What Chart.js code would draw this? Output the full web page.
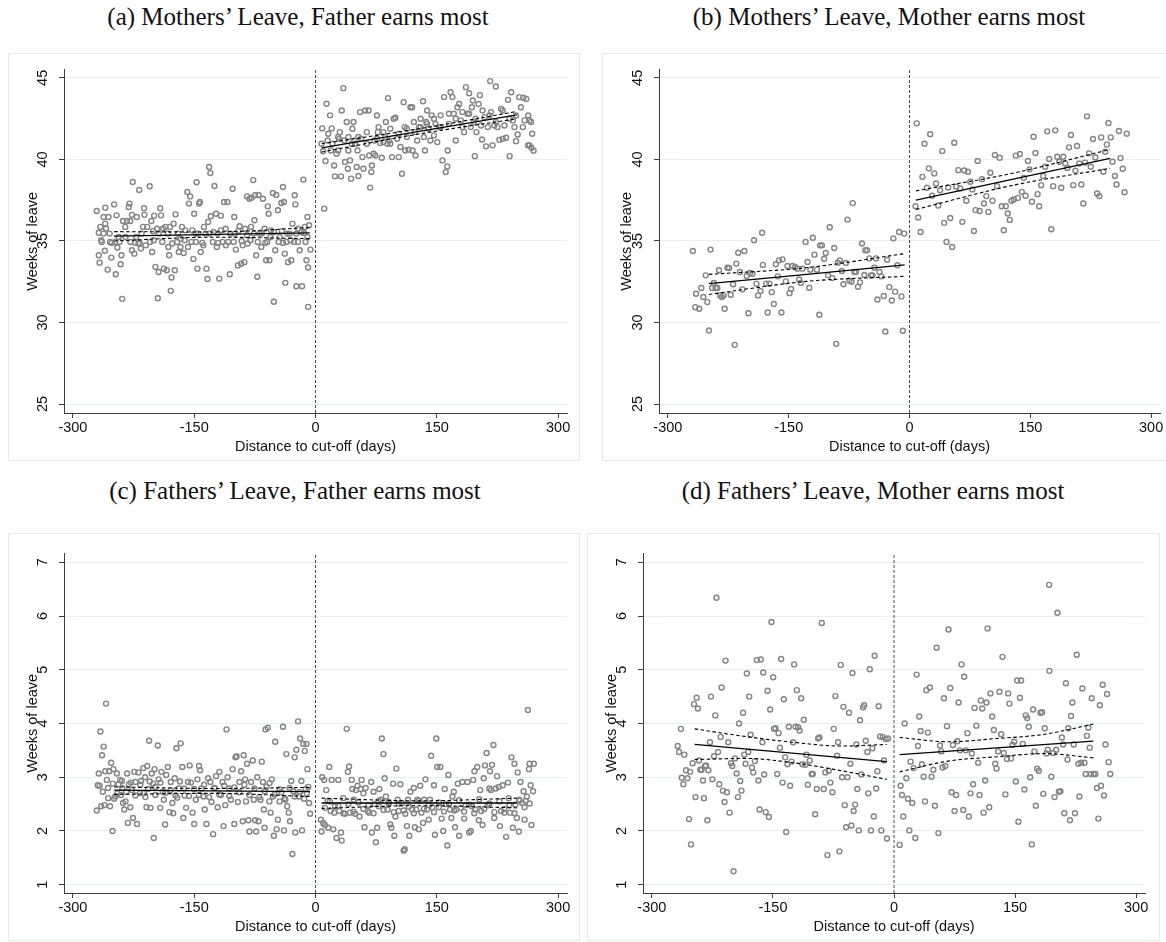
<!DOCTYPE html>
<html>
<head>
<meta charset="utf-8">
<title>Weeks of leave around the cut-off</title>
<script src="https://cdn.jsdelivr.net/npm/chart.js@4.4.1/dist/chart.umd.min.js"></script>
<style>
  body { margin: 0; background: #fff; width: 1166px; height: 942px; position: relative; overflow: hidden; }
  .ptitle { position: absolute; font-family: "Liberation Serif", "Times New Roman", serif; font-size: 25px; line-height: 30px; color: #111; text-align: center; white-space: nowrap; }
  .box { position: absolute; border: 1px solid #dfe8eb; box-sizing: border-box; }
  canvas { position: absolute; }
</style>
</head>
<body>

<div class="ptitle" style="left:8px;width:580px;top:2px">(a) Mothers’ Leave, Father earns most</div>
<div class="ptitle" style="left:602px;width:574px;top:2px">(b) Mothers’ Leave, Mother earns most</div>
<div class="ptitle" style="left:8px;width:574px;top:476px">(c) Fathers’ Leave, Father earns most</div>
<div class="ptitle" style="left:587px;width:572px;top:476px">(d) Fathers’ Leave, Mother earns most</div>

<div class="box" style="left:8px;top:53px;width:572px;height:408px"></div>
<div class="box" style="left:602px;top:53px;width:580px;height:408px"></div>
<div class="box" style="left:8px;top:533px;width:572px;height:408px"></div>
<div class="box" style="left:587px;top:533px;width:573px;height:408px"></div>

<canvas id="chartA" width="572" height="408" style="left:8px;top:53px"></canvas>
<canvas id="chartB" width="572" height="408" style="left:602px;top:53px"></canvas>
<canvas id="chartC" width="572" height="408" style="left:8px;top:533px"></canvas>
<canvas id="chartD" width="573" height="408" style="left:587px;top:533px"></canvas>

<script>
// axis set-up shared by the four panels
var xTicks = [-300, -150, 0, 150, 300];
var xRange = [-311, 311];
var yTicksMothers = [25, 30, 35, 40, 45];
var yRangeMothers = [24.45, 45.5];
var yTicksFathers = [1, 2, 3, 4, 5, 6, 7];
var yRangeFathers = [0.845, 7.16];
var xTitle = 'Distance to cut-off (days)';
var yTitle = 'Weeks of leave';

// (a) mothers' leave, father earns most: [days, weeks]
var scatterA = [
  [-270.5,36.84],[-268,34.12],[-267,33.67],[-268,35.5],[-266,35.86],[-265,35.04],[-262,36.47],[-262,35.45],[-260.5,34.4],[-260,36.06],
  [-260,37.04],[-257,33.24],[-256,36.47],[-254.5,35.45],[-254,34.94],[-252.5,33.98],[-249,37.24],[-247.7,34.94],[-247,32.96],[-246,36.57],
  [-245,34.6],[-243.5,35.24],[-241,33.57],[-240,34.12],[-239,31.45],[-238,36.22],[-235,35.24],[-233,36.22],[-231,37.08],[-230,37.29],
  [-229,36.22],[-227,36.6],[-227,34.43],[-226,38.61],[-224,34.22],[-223,34.88],[-221,36.47],[-219,34.84],[-218,38.12],[-216,34.53],
  [-215,35.45],[-212,37.0],[-211.5,36.6],[-210,34.73],[-208,35.86],[-205,38.35],[-203,36.22],[-202,34.32],[-201,35.6],[-199.5,36.55],
  [-198,33.41],[-196,35.75],[-195,31.49],[-194,33.1],[-192,37.0],[-191,36.57],[-189.5,34.94],[-187.5,33.3],[-185.5,35.86],[-184,33.2],
  [-182,34.63],[-181,34.12],[-180,35.86],[-179,31.94],[-178,32.76],[-175.5,36.06],[-174,33.2],[-173,36.63],[-171,34.94],[-169,34.32],
  [-167,34.63],[-165,35.86],[-163,34.26],[-161,35.65],[-158.5,38.0],[-156.5,37.29],[-155,37.73],[-153.5,34.94],[-151,33.9],[-150,36.67],
  [-148,35.45],[-147,38.6],[-146,33.3],[-144,37.29],[-143,37.39],[-142,34.32],[-140,34.88],[-138,35.86],[-136,35.45],[-134.8,33.3],
  [-133.6,32.67],[-132.8,36.16],[-131.5,39.53],[-130,39.16],[-129.5,36.51],[-127,34.94],[-125,38.37],[-123,36.67],[-122,34.63],[-121,35.45],
  [-119,32.69],[-117,36.55],[-115,34.94],[-113,37.39],[-111,35.75],[-109,37.39],[-108,34.94],[-106,32.96],[-102.5,38.2],[-100.5,36.47],
  [-99.6,35.45],[-98.5,34.47],[-96,33.5],[-94,35.9],[-92,33.6],[-90,34.73],[-88,33.7],[-87,35.75],[-84.6,37.73],[-84,34.84],
  [-81.7,37.59],[-79.7,35.86],[-79,37.65],[-77,38.73],[-75.5,36.27],[-74.7,37.8],[-73.4,34.12],[-72,32.8],[-70.5,37.82],[-69,35.45],
  [-67,34.63],[-65,37.59],[-63,35.75],[-61,33.82],[-59.8,34.94],[-59,37.12],[-58,36.67],[-57,33.82],[-55,35.65],[-52.7,37.94],
  [-51.5,31.27],[-49.8,34.43],[-48.5,37.82],[-46.5,36.88],[-45.6,34.94],[-42.3,37.33],[-41.5,35.6],[-40.2,38.31],[-39,37.39],[-38,34.22],
  [-37.3,32.43],[-36,34.94],[-34,33.7],[-32,35.45],[-30,33.82],[-28.6,36.06],[-26.6,34.94],[-25.7,37.8],[-24.9,37.24],[-23.7,32.22],
  [-21.6,35.75],[-19.5,34.43],[-16.6,32.22],[-15,38.76],[-14.1,35.49],[-12.4,34.94],[-11.2,33.82],[-10,36.47],[-9.1,33.37],[-9,30.96],
  [-7.9,35.96],[-6.2,34.47],
  [-264.3,34.94],[-259,35.76],[-252,34.88],[-242.3,34.94],[-235.3,35.86],[-229,34.94],[-221.6,35.24],[-217.4,34.88],[-213.3,35.86],[-204.6,34.94],
  [-200,35.04],[-193.8,35.45],[-188.4,35.76],[-182.6,35.45],[-177.2,34.84],[-170,35.45],[-166.8,35.14],[-161.8,35.04],[-157.7,34.63],[-152.3,35.65],
  [-148,34.94],[-145.2,35.45],[-138.6,34.73],[-131.1,35.45],[-126,35.55],[-120.3,34.88],[-117,35.65],[-110.8,34.73],[-105.4,35.45],[-101.2,34.94],
  [-95.4,35.61],[-91.3,35.0],[-84.6,35.35],[-80.5,35.04],[-76.3,35.45],[-71.4,34.94],[-66.4,35.45],[-62.2,34.88],[-55.6,35.24],[-51.5,35.55],
  [-44.4,35.24],[-40.2,34.88],[-34.9,35.45],[-30.7,35.04],[-23.7,35.45],[-21.6,34.94],[-17.4,35.55],[-13.3,35.86],[-10,35.24],
  [8.3,41.9],[7.5,40.96],[9.5,40.5],[10.8,36.98],[12.4,39.9],[13.7,43.41],[15,41.16],[15.8,41.57],[18,42.7],[19,40.55],
  [20,41.9],[21,40.96],[23,39.63],[24,38.96],[26,40.35],[28,40.55],[29,41.26],[30,41.67],[31.5,38.96],[32.4,43.0],
  [34.4,44.37],[35.7,41.16],[36.5,39.84],[38.6,42.29],[40,39.43],[40.7,40.55],[42.7,39.94],[44,38.82],[45.6,41.88],[47,42.29],
  [48,41.16],[49,40.96],[51,39.53],[52,40.55],[53,38.98],[55,42.9],[56.4,41.27],[58,40.14],[59.3,39.43],[61.4,43.0],
  [63.5,40.96],[65.6,43.0],[66.4,40.24],[67.6,38.27],[69,39.22],[69.7,39.63],[71.8,40.35],[73,41.16],[74,40.24],[76,42.69],
  [77,41.67],[78,41.98],[80,41.0],[82,40.1],[84,41.06],[86,41.37],[87,42.29],[89,40.96],[89.6,43.76],[91,41.16],
  [92.5,40.96],[94.6,40.14],[96.7,42.49],[98.8,42.55],[101,41.27],[103,40.14],[105,40.76],[107,39.12],[109,43.51],[110.4,41.98],
  [111,40.55],[113,41.37],[115,40.59],[117.4,43.2],[119.5,43.2],[120,40.55],[123,41.67],[123.7,40.24],[125.7,41.16],[127.8,41.98],
  [130,42.49],[133,43.57],[134,41.37],[135.3,40.55],[137,42.29],[138,43.0],[140,41.88],[142,41.16],[143.6,42.7],[146.5,41.47],
  [148.5,42.18],[150.6,41.06],[152.7,41.98],[154.8,42.7],[157,39.94],[159,43.82],[161,39.22],[163,39.57],[163.5,40.55],[165,42.18],
  [167,44.12],[169.3,43.82],[171,42.8],[173.4,41.16],[175.5,43.2],[177.6,43.4],[179.7,42.39],[181.7,42.9],[183.8,41.67],[186,44.43],
  [188,42.8],[190,44.06],[192,41.98],[193.4,43.2],[194.5,43.61],[196,42.29],[197,40.2],[199,41.67],[201.7,43.4],[203.3,43.94],
  [204.6,42.08],[206,41.22],[209,42.59],[210.8,40.8],[213,41.98],[216,44.8],[217,42.9],[219,40.86],[221,42.08],[223,44.47],
  [225,41.98],[227.4,41.2],[229.5,43.1],[231.5,41.26],[233.6,42.08],[235.7,41.33],[238,43.65],[240,40.2],[242,44.12],[244,42.39],
  [246,41.98],[248,41.12],[250,41.53],[252,43.82],[254,43.2],[257,43.78],[258.5,42.39],[260.6,43.71],[262.7,40.86],[263,42.69],
  [264.7,40.86],[266.5,42.29],[267,40.71],[268,41.57],[269.7,40.53],
  [28,41.37],[40.7,41.37],[44.8,40.96],[53,41.37],[63.5,41.67],[76,41.27],[84,41.67],[92.5,41.88],[103,41.57],[113,41.88],
  [121.6,42.29],[130,41.98],[138,42.18],[146.5,42.49],[154.8,41.98],[165,42.8],[173.4,42.49],[181.7,41.98],[190,42.8],[198,42.49],
  [206.6,43.0],[215,42.69],[223,42.29],[231.5,43.0],[240,42.49],[248,42.69],[256.4,41.98],[264.7,42.39]
];
var fitLeftA = [[-249, 35.29], [-7, 35.49]];
var ciHiLeftA = [[-249, 35.57], [-128, 35.55], [-7, 35.82]];
var ciLoLeftA = [[-249, 35.0], [-128, 35.23], [-7, 35.14]];
var fitRightA = [[7.5, 40.71], [249, 42.73]];
var ciHiRightA = [[7.5, 40.96], [128, 41.88], [249, 42.94]];
var ciLoRightA = [[7.5, 40.45], [128, 41.56], [249, 42.49]];

// (b) mothers' leave, mother earns most
var scatterB = [
  [-269,34.38],[-266,30.94],[-265,31.76],[-261,30.84],[-258.5,32.11],[-256,31.56],[-253,32.89],[-251,31.25],[-249,29.51],[-247,34.47],
  [-245,32.11],[-243,32.42],[-240.7,32.11],[-238.6,32.11],[-236.5,33.2],[-235,31.66],[-233,31.56],[-231,31.66],[-229.5,30.84],[-226,33.36],
  [-224,33.34],[-222,31.7],[-219,32.34],[-217,28.63],[-215,33.61],[-212.6,34.28],[-210.5,33.1],[-207.5,32.03],[-205,34.38],[-202,32.85],
  [-200,30.57],[-198,33.03],[-195,32.99],[-193,35.04],[-190,32.38],[-188,31.66],[-185,31.93],[-183,35.5],[-182,33.53],[-178,32.38],
  [-176,30.61],[-174,32.38],[-171,31.86],[-168.5,31.13],[-166,33.57],[-163.5,32.83],[-162,33.81],[-159,30.61],[-157.7,33.87],[-153.5,32.52],
  [-151.5,33.46],[-149,31.8],[-147,32.05],[-145,33.46],[-142,33.4],[-139,33.3],[-137,32.64],[-135,32.42],[-133,33.3],[-129,34.94],
  [-126.6,33.71],[-124.5,32.13],[-123,33.24],[-120,35.2],[-118,34.16],[-115,33.24],[-112,30.47],[-111,34.73],[-108.7,34.73],[-106,33.91],
  [-104,34.26],[-101,32.89],[-99,35.84],[-96,32.73],[-93.4,34.57],[-91,28.69],[-89,33.67],[-86.7,33.81],[-84,33.16],[-82,32.34],
  [-79,33.65],[-77,36.31],[-74.7,32.58],[-72,32.5],[-70.5,37.32],[-68.5,33.1],[-66.4,33.1],[-64,32.19],[-61.4,32.46],[-59,34.84],
  [-56,32.91],[-54.8,34.43],[-52.7,34.43],[-49.8,33.93],[-47.7,32.89],[-46,32.89],[-43.6,33.36],[-41.5,33.93],[-39.8,31.41],[-37.3,33.1],
  [-35,32.83],[-32,31.62],[-30,29.45],[-27.8,33.85],[-25,32.17],[-22,31.35],[-20,35.16],[-17.8,31.89],[-15,33.51],[-12.9,35.55],
  [-10,31.6],[-8.3,29.49],[-6.6,35.45],
  [7.5,37.13],[9,42.21],[10.8,36.44],[13.7,35.55],[16,38.93],[18.7,40.96],[21.6,38.26],[24,39.45],[25.7,41.54],[28,37.77],
  [30.7,39.14],[33,38.52],[35.7,37.17],[38,38.11],[40.7,40.51],[43,36.11],[46,34.94],[48,38.28],[50.6,36.41],[53,34.63],
  [55.6,41.02],[58,38.32],[60.6,39.34],[63,38.22],[65.6,36.17],[68,39.32],[70.5,37.46],[72.6,39.24],[75.5,38.63],[78,38.16],
  [80,35.61],[82,36.89],[84.6,39.9],[87,36.84],[90,38.79],[92.5,37.3],[95.4,37.75],[98,36.78],[100.4,39.18],[103,37.46],
  [106,40.27],[108.7,38.36],[112,40.1],[114.5,37.13],[117,35.66],[119.5,37.13],[122,36.68],[124.5,36.29],[126.6,37.46],[129.5,37.54],
  [132,40.23],[134.5,37.64],[137,40.33],[139.4,38.01],[142,38.87],[144,37.77],[147,39.9],[149,39.39],[152,37.4],[154,41.39],
  [156.4,40.39],[159,37.87],[161,37.13],[163.5,38.42],[166,38.98],[168.5,39.55],[171,41.72],[173.4,40.02],[176,35.72],[178.4,38.36],
  [181,41.78],[183.4,40.16],[186,39.86],[188.4,38.26],[191,40.16],[193.4,39.75],[196,39.47],[198,40.74],[200.4,41.5],[203.3,38.42],
  [206,39.3],[208,40.82],[210.8,39.75],[213.3,38.46],[215.8,37.3],[218,39.8],[220.4,42.64],[223,40.37],[225,39.55],[227.8,41.25],
  [230.7,40.12],[233,37.91],[235.7,37.75],[238,41.35],[240.7,39.24],[243,40.47],[245,40.92],[247,42.23],[249.8,41.35],[252,39.86],
  [255,38.98],[257,38.46],[260,41.74],[262,40.08],[264.7,39.43],[267,37.99],[269.7,41.58]
];
var fitLeftB = [[-249, 32.38], [-6, 33.53]];
var ciHiLeftB = [[-249, 32.95], [-128, 33.36], [-6, 34.22]];
var ciLoLeftB = [[-249, 31.72], [-128, 32.52], [-6, 32.83]];
var fitRightB = [[8, 37.5], [249, 40.06]];
var ciHiRightB = [[8, 38.07], [128, 39.15], [249, 40.61]];
var ciLoRightB = [[8, 36.93], [128, 38.41], [249, 39.45]];

// (c) fathers' leave, father earns most
var scatterC = [
  [-270.5,2.38],[-268,3.07],[-267,2.84],[-266,3.85],[-265,2.46],[-264,3.41],[-262,3.57],[-261,2.48],[-260,3.11],[-259,4.37],
  [-258,2.95],[-256.5,2.8],[-255,3.11],[-254,2.46],[-252.7,3.27],[-251,2.0],[-250,3.15],[-249,2.6],[-247.6,2.64],[-245.6,3.07],
  [-243.6,2.87],[-241.5,2.95],[-240.7,2.67],[-239,2.8],[-238,2.52],[-236.5,2.4],[-235,2.55],[-233,3.07],[-232,2.15],[-230.7,2.87],
  [-229,2.44],[-227,2.76],[-225.7,2.24],[-224,3.1],[-222.6,2.91],[-220.7,2.13],[-219,3.09],[-217,2.7],[-215.8,2.93],[-213,3.17],
  [-212.4,2.7],[-210.8,3.0],[-209,2.44],[-208,3.21],[-207,2.78],[-205.8,3.68],[-204,2.43],[-202.5,3.07],[-200.8,2.88],[-200,1.87],
  [-199,3.15],[-198,2.67],[-195,3.59],[-194,2.96],[-192,2.43],[-190.5,3.1],[-188.8,2.73],[-187.5,2.58],[-186,2.12],[-184.6,3.04],
  [-182.6,3.19],[-180.5,2.35],[-179,2.91],[-177,2.52],[-176,2.33],[-174,2.98],[-172,3.54],[-171,2.62],[-169,2.79],[-166.8,3.63],
  [-164.7,3.19],[-163.5,2.24],[-162,2.66],[-160,2.43],[-157.7,2.91],[-155.6,3.22],[-154,2.9],[-152,2.34],[-150,2.13],[-148,2.58],
  [-146,2.96],[-144,3.21],[-142.7,3.13],[-141,2.79],[-138.6,2.64],[-137,2.4],[-134.8,2.13],[-132.8,2.98],[-130,2.91],[-128.6,2.54],
  [-126.6,1.94],[-124.5,2.8],[-123,3.02],[-121,2.44],[-119,3.1],[-117,2.67],[-115,2.91],[-113.7,2.09],[-111.6,2.48],[-110,3.89],
  [-108.7,3.0],[-106.6,2.79],[-104.6,2.58],[-102.5,3.15],[-100.4,2.13],[-99,3.37],[-97.5,3.39],[-96,2.54],[-94,2.91],[-92,3.11],
  [-90,2.18],[-88.8,3.41],[-87,2.96],[-86,2.55],[-84.6,3.25],[-83,2.2],[-81.7,1.99],[-79.7,2.91],[-77.6,3.31],[-76.3,2.58],
  [-74.7,2.2],[-73.4,1.99],[-72,3.0],[-70.5,2.18],[-68,2.58],[-66.4,3.29],[-65,2.91],[-63.9,2.4],[-63,2.06],[-61.8,3.89],
  [-60.6,2.82],[-59,3.92],[-57,2.55],[-55.6,2.34],[-54,2.96],[-52.7,2.64],[-51.5,1.91],[-49.8,3.66],[-48,2.03],[-46.5,2.21],
  [-44.4,2.55],[-42.3,2.72],[-40.2,3.94],[-39,2.01],[-37.3,2.58],[-36,3.43],[-35,2.46],[-33.2,2.34],[-31.5,2.18],[-30,2.93],
  [-28.6,1.57],[-27.4,2.74],[-25.7,3.37],[-25,1.97],[-23.7,3.51],[-21.6,4.04],[-20.3,2.64],[-19,3.72],[-17.4,2.93],[-16.6,2.01],
  [-15,3.62],[-13.3,3.49],[-12,2.78],[-11.2,3.62],[-10,3.15],[-9,2.82],[-7.9,2.52],[-6.6,2.32],
  [-269.3,2.85],[-263,2.73],[-256.4,2.61],[-250.6,2.88],[-245,2.7],[-239.4,2.93],[-234,2.73],[-228.2,2.9],[-222.8,2.66],[-216.6,2.86],
  [-210.4,2.63],[-205,2.92],[-198,2.82],[-191.7,2.9],[-185.5,2.71],[-179.3,2.76],[-173,2.66],[-167.6,2.92],[-162.7,2.79],[-156.4,2.65],
  [-150.2,2.78],[-144,2.67],[-137.8,2.86],[-131.5,2.63],[-125.3,2.8],[-119,2.68],[-112.9,2.84],[-106.6,2.65],[-100.4,2.81],[-94.2,2.72],
  [-88,2.86],[-81.7,2.67],[-75.5,2.79],[-69.3,2.63],[-63,2.74],[-56.8,2.89],[-50.6,2.68],[-44.4,2.77],[-38.2,2.61],[-32,2.8],
  [-25.7,2.64],[-19.5,2.72],[-14.1,2.6],[-10.8,2.7],
  [6.6,2.21],[7.5,1.99],[8.3,3.0],[9.5,2.15],[10.8,2.95],[11.6,2.11],[13.3,2.76],[15,2.56],[15.8,2.06],[17,3.19],
  [18.7,2.37],[20,2.95],[22,2.03],[24,2.46],[26,1.87],[28.2,2.95],[29.5,2.37],[31.5,1.97],[32.4,1.82],[34.4,2.61],
  [36.5,2.32],[38.6,3.9],[40,3.1],[41.5,3.2],[42.7,2.34],[44.8,2.95],[45.6,2.78],[47.3,2.58],[49,2.32],[50,2.76],
  [52,2.84],[54.4,2.27],[56,2.78],[57,2.95],[59.3,2.7],[60.6,2.07],[62,2.8],[64.7,2.37],[66.4,2.34],[68.9,2.91],
  [69.7,1.97],[71.8,2.73],[73,2.5],[74.7,1.79],[76.3,2.06],[78,2.46],[79,2.78],[81,2.58],[82,3.72],[84,3.43],
  [85.5,2.98],[87,2.64],[89,2.4],[90.5,2.54],[92.5,2.12],[93.8,2.06],[96,2.88],[97.5,1.91],[98.8,2.27],[100,3.16],
  [101.7,2.58],[103,2.37],[105,2.87],[107,2.52],[109,1.63],[110.4,1.66],[111,2.32],[113,2.09],[114.5,2.58],[116,1.91],
  [117.4,2.73],[119.5,2.4],[121.6,2.8],[122.8,2.07],[124.5,2.4],[126,2.58],[127.8,2.03],[129.5,2.84],[131,2.34],[133,2.15],
  [134.4,2.58],[136,2.96],[138,2.4],[140,2.21],[141.5,2.58],[143,3.4],[144.4,2.44],[146.5,2.85],[147.7,1.93],[149.4,3.72],
  [150.6,3.19],[152.7,2.44],[154.4,3.19],[156,2.23],[158,2.0],[159.8,2.78],[161,2.5],[163,1.73],[164.3,3.04],[166.4,2.4],
  [168,2.24],[169.3,2.64],[171,2.73],[172.6,2.07],[174,2.4],[176,2.88],[177.6,1.91],[179.7,2.43],[181.7,2.91],[183.8,2.23],
  [186,2.48],[188,2.91],[190,1.97],[192,2.0],[193.4,2.46],[195,2.95],[196.5,3.11],[197.5,2.4],[200,3.19],[202,2.2],
  [203.7,2.76],[205,2.37],[206.6,2.11],[208,2.98],[209.5,3.22],[211.6,3.45],[213,2.48],[215,2.79],[215.8,3.11],[217,2.76],
  [218.3,3.23],[220,3.6],[221,2.24],[223,2.79],[224.5,3.02],[226.6,2.82],[228,2.09],[229.5,2.37],[231.5,2.85],[233.6,2.34],
  [235.7,1.89],[238,2.9],[239,2.61],[240.7,2.34],[242.3,3.37],[244,2.06],[246,3.25],[247.3,2.49],[249,2.24],[250,3.09],
  [251.5,1.99],[252,2.58],[253.5,2.91],[255.6,2.52],[257.3,2.74],[258.5,2.21],[260,2.56],[261.4,2.64],[262.7,4.25],[264,3.15],
  [264.7,3.25],[266,2.85],[267,2.11],[269,2.74],[270,3.25],
  [11.6,2.43],[17.8,2.55],[23.2,2.34],[28.2,2.47],[34.4,2.33],[40.7,2.5],[46.9,2.36],[53.1,2.53],[59.3,2.41],[65.6,2.48],
  [71.8,2.33],[78,2.56],[84.2,2.39],[90.5,2.5],[96.7,2.35],[102.9,2.51],[109.1,2.38],[115.4,2.45],[121.6,2.33],[127.8,2.56],
  [134,2.41],[140.2,2.48],[146.5,2.35],[152.7,2.53],[158.9,2.36],[165.1,2.5],[171.4,2.38],[177.6,2.57],[183.8,2.36],[190,2.49],
  [196.3,2.33],[202.5,2.59],[208.7,2.41],[214.9,2.51],[221.2,2.35],[227.4,2.55],[233.6,2.41],[239.8,2.48],[246,2.33],[252.3,2.56],
  [258.5,2.44],[264.7,2.51]
];
var fitLeftC = [[-249, 2.76], [-7, 2.73]];
var ciHiLeftC = [[-249, 2.82], [-128, 2.79], [-7, 2.81]];
var ciLoLeftC = [[-249, 2.68], [-128, 2.70], [-7, 2.64]];
var fitRightC = [[7.5, 2.52], [249, 2.52]];
var ciHiRightC = [[7.5, 2.61], [128, 2.56], [249, 2.61]];
var ciLoRightC = [[7.5, 2.42], [128, 2.47], [249, 2.43]];

// (d) fathers' leave, mother earns most
var scatterD = [
  [-268,3.58],[-266.4,3.47],[-264,3.9],[-263,2.99],[-261,2.87],[-259.8,3.42],[-257.7,3.13],[-256,2.98],[-254,2.22],[-252.6,3.1],
  [-251.5,1.75],[-249.5,3.26],[-247.8,4.36],[-246,2.63],[-244.5,4.48],[-243,4.28],[-241.6,3.31],[-240,3.14],[-238.4,3.14],[-236.7,2.94],
  [-235.5,2.61],[-234,3.21],[-233,3.22],[-231.3,2.2],[-230,3.13],[-228,3.65],[-226.8,4.5],[-225,2.96],[-223,3.39],[-221.4,4.15],
  [-220,6.34],[-218,3.47],[-216.5,2.87],[-214.8,3.75],[-213.6,4.67],[-212,2.75],[-210,2.54],[-208.7,5.17],[-207,2.72],[-205.4,3.65],
  [-203.7,2.34],[-202,3.26],[-200.4,3.21],[-198.8,1.25],[-197,3.35],[-195,3.07],[-193.4,2.63],[-192,4.0],[-190.5,2.93],[-189,2.75],
  [-187,4.2],[-185.6,3.42],[-184,3.25],[-182.4,4.93],[-180.6,3.47],[-179.4,4.5],[-177.7,3.79],[-176,3.18],[-174.4,3.09],[-172.4,3.3],
  [-170,5.18],[-168,2.94],[-166.6,2.4],[-165,5.19],[-163,3.65],[-162,4.95],[-160.8,3.05],[-159,2.35],[-156.7,4.61],[-155,2.26],
  [-153.4,4.26],[-151.8,5.89],[-149.7,4.86],[-148.5,3.9],[-146.8,3.91],[-144.7,3.06],[-143,3.82],[-141.4,3.55],[-139.8,5.2],[-138,2.9],
  [-136.5,4.45],[-134.8,3.37],[-133.6,1.98],[-132,3.24],[-130.3,3.94],[-128.7,2.84],[-127,3.29],[-125,3.65],[-123.7,5.1],[-122,3.94],
  [-120.4,4.62],[-118.8,3.93],[-117,3.87],[-115,4.47],[-113.4,3.24],[-111.8,4.07],[-110,3.23],[-108.5,3.42],[-106.8,2.86],[-104.3,3.31],
  [-102,3.06],[-100.6,3.06],[-97.7,2.31],[-95.7,2.78],[-94,3.72],[-92.4,3.74],[-89.5,5.87],[-87,2.78],[-85,3.09],[-82.5,1.55],
  [-80.8,3.12],[-78.8,2.9],[-76.3,2.72],[-74.6,3.9],[-72.6,4.51],[-70.5,3.4],[-69.3,3.65],[-67.6,1.62],[-66,5.09],[-64.3,3.0],
  [-62.7,4.31],[-61,2.48],[-59.4,2.07],[-57.7,3.0],[-55.7,4.2],[-54,3.25],[-52.8,2.1],[-51.5,4.94],[-50,2.37],[-48.2,2.49],
  [-46.6,3.61],[-45.4,2.78],[-43.7,2.01],[-42,4.06],[-40.4,3.05],[-38.4,4.3],[-37,4.34],[-35,3.68],[-33,3.47],[-31.8,2.7],
  [-30,5.01],[-28.5,2.01],[-26.8,3.54],[-25,2.27],[-24,5.26],[-22,2.79],[-20.6,3.11],[-19,4.32],[-17.3,3.76],[-15.7,2.01],
  [-14,3.75],[-12.4,3.31],[-10.3,3.71],[-8.7,1.86],[-7.4,3.72],
  [7,1.74],[8.2,2.84],[9.9,2.67],[11.5,2.27],[13.2,4.0],[15.3,2.98],[17.3,2.6],[19,2.01],[20.6,3.29],[22.7,2.52],
  [24.3,3.17],[26.4,1.87],[28,4.91],[29.7,3.58],[31.3,4.13],[33,3.86],[34.6,3.24],[36.7,3.01],[38.4,2.55],[40,4.62],
  [42,3.83],[44.5,4.67],[46.6,3.01],[48.7,3.14],[50.7,2.47],[52.8,5.41],[55,1.96],[57,3.59],[58.6,3.48],[60.2,3.18],
  [61.9,4.47],[63.5,3.21],[65.6,3.95],[67.6,5.75],[69.7,4.66],[71.3,2.72],[73,3.6],[75,2.37],[77,2.67],[78.4,3.67],
  [80,4.39],[81.6,3.5],[83.7,5.1],[85.8,2.39],[87,4.87],[89,3.5],[91,3.82],[92.8,2.27],[94.8,2.7],[96.5,3.44],
  [98,2.87],[99.8,4.29],[102,3.96],[104.3,3.27],[106,2.67],[107.6,4.43],[109.3,4.28],[111,2.34],[113,2.94],[114.6,4.39],
  [116,5.77],[118,2.44],[119.5,4.56],[121.6,4.13],[123.7,3.88],[125.4,3.25],[127,3.16],[129,3.48],[130.7,4.59],[132.8,3.8],
  [134.4,5.24],[136,3.45],[138,2.68],[140,3.34],[141.4,4.56],[143,4.37],[145,3.35],[146.8,3.6],[148.9,3.66],[151,2.92],
  [152.6,4.8],[154.2,2.17],[156,4.48],[157.5,4.8],[159.6,3.62],[161.6,2.77],[163.3,4.15],[165,4.1],[167,3.94],[168.7,3.0],
  [170.7,1.75],[172.4,4.26],[174,3.48],[175.7,2.47],[177.3,3.16],[179.4,3.12],[181.5,4.2],[183.5,4.21],[185,2.69],[186.8,3.91],
  [188.9,3.44],[190.5,3.51],[192.6,4.98],[192.2,6.58],[195,3.01],[197,3.45],[199,2.63],[201,3.51],[202.5,6.06],[204.3,2.73],
  [206.2,2.74],[208,3.74],[209.5,3.61],[211,2.33],[213,4.75],[215,3.33],[216,3.91],[218,2.2],[219.4,4.14],[221,4.39],
  [222.7,3.61],[224.3,2.33],[226.4,5.28],[228.5,3.25],[229.7,2.64],[231.8,3.27],[233.4,4.65],[236,3.27],[237.5,3.06],[239,3.77],
  [240.8,3.92],[242.5,3.55],[245,4.47],[244,3.06],[247.4,3.06],[249.5,3.06],[251.5,2.8],[253.2,2.23],[255,4.34],[256.5,2.84],
  [258.6,4.72],[260.2,2.66],[262,3.61],[264,4.55],[266,3.28],[268,3.06]
];
var fitLeftD = [[-247, 3.61], [-9, 3.29]];
var ciHiLeftD = [[-247, 3.9], [-185, 3.76], [-125, 3.65], [-65, 3.58], [-9, 3.61]];
var ciLoLeftD = [[-247, 3.33], [-185, 3.35], [-125, 3.27], [-65, 3.12], [-9, 2.96]];
var fitRightD = [[7, 3.42], [247, 3.67]];
var ciHiRightD = [[7, 3.74], [67, 3.66], [127, 3.72], [187, 3.8], [247, 3.99]];
var ciLoRightD = [[7, 3.1], [67, 3.3], [127, 3.38], [187, 3.44], [247, 3.36]];

var axisColor = '#3c3c3c';
var textColor = '#111111';
var gridColor = '#e6eff1';
var markerColor = '#858585';
var sansFont = { family: '"Liberation Sans", Arial, sans-serif', size: 14.5 };

function toXY(pts)
{
    return pts.map(function (p) { return { x: p[0], y: p[1] }; });
}

function lineSet(pts, dashed)
{
    return {
        type: 'line',
        data: toXY(pts),
        showLine: true,
        borderColor: '#000',
        borderWidth: dashed ? 1.1 : 1.3,
        borderDash: dashed ? [3.5, 2.5] : [],
        pointRadius: 0,
        fill: false,
        cubicInterpolationMode: 'monotone'
    };
}

function buildPanel(canvasId, points, fits, yRange, yTicks, geo)
{
    var datasets = [];
    // dashed cut-off line at day 0, spanning the whole y range
    datasets.push({
        type: 'line',
        data: toXY([[0, yRange[0]], [0, yRange[1]]]),
        showLine: true,
        borderColor: '#4a4a4a',
        borderWidth: 1,
        borderDash: [3, 2],
        pointRadius: 0
    });
    fits.forEach(function (f) { datasets.push(lineSet(f.pts, f.dashed)); });
    datasets.push({
        type: 'scatter',
        data: toXY(points),
        pointStyle: 'circle',
        pointRadius: 2.5,
        pointBorderWidth: 1.4,
        borderColor: markerColor,
        backgroundColor: 'rgba(255,255,255,0)',
        showLine: false
    });

    var ctx = document.getElementById(canvasId).getContext('2d');
    return new Chart(ctx, {
        type: 'scatter',
        data: { datasets: datasets },
        options: {
            responsive: false,
            animation: false,
            events: [],
            layout: { padding: { left: 0, top: geo.top, right: geo.right, bottom: 0 } },
            plugins: { legend: { display: false }, tooltip: { enabled: false } },
            scales: {
                x: {
                    type: 'linear',
                    min: xRange[0],
                    max: xRange[1],
                    afterBuildTicks: function (s) { s.ticks = xTicks.map(function (v) { return { value: v }; }); },
                    afterFit: function (s) { s.height = geo.xAxisH; },
                    grid: { drawOnChartArea: false, tickLength: 5, tickColor: axisColor },
                    border: { color: axisColor, width: 1 },
                    ticks: { color: textColor, font: sansFont, padding: 1, maxRotation: 0, autoSkip: false },
                    title: { display: true, text: xTitle, color: textColor, font: sansFont, padding: { top: 0, bottom: 5 } }
                },
                y: {
                    type: 'linear',
                    min: yRange[0],
                    max: yRange[1],
                    afterBuildTicks: function (s) { s.ticks = yTicks.map(function (v) { return { value: v }; }); },
                    afterFit: function (s) { s.width = geo.yAxisW; },
                    grid: { color: gridColor, lineWidth: 1, tickLength: 5, tickColor: axisColor },
                    border: { color: axisColor, width: 1 },
                    ticks: { color: textColor, font: sansFont, padding: geo.yTickPad, minRotation: 90, maxRotation: 90, crossAlign: 'center', autoSkip: false },
                    title: { display: true, text: yTitle, color: textColor, font: sansFont, padding: { top: 16, bottom: 0 } }
                }
            }
        }
    });
}

function fitList(fit, hi, lo, fitR, hiR, loR)
{
    return [
        { pts: fit, dashed: false }, { pts: hi, dashed: true }, { pts: lo, dashed: true },
        { pts: fitR, dashed: false }, { pts: hiR, dashed: true }, { pts: loR, dashed: true }
    ];
}

buildPanel('chartA', scatterA, fitList(fitLeftA, ciHiLeftA, ciLoLeftA, fitRightA, ciHiRightA, ciLoRightA),
    yRangeMothers, yTicksMothers, { top: 16, right: 13, xAxisH: 48, yAxisW: 56, yTickPad: 8 });
buildPanel('chartB', scatterB, fitList(fitLeftB, ciHiLeftB, ciLoLeftB, fitRightB, ciHiRightB, ciLoRightB),
    yRangeMothers, yTicksMothers, { top: 16, right: 14, xAxisH: 48, yAxisW: 57, yTickPad: 8 });
buildPanel('chartC', scatterC, fitList(fitLeftC, ciHiLeftC, ciLoLeftC, fitRightC, ciHiRightC, ciLoRightC),
    yRangeFathers, yTicksFathers, { top: 15, right: 13, xAxisH: 48, yAxisW: 56, yTickPad: 12 });
buildPanel('chartD', scatterD, fitList(fitLeftD, ciHiLeftD, ciLoLeftD, fitRightD, ciHiRightD, ciLoRightD),
    yRangeFathers, yTicksFathers, { top: 15, right: 15, xAxisH: 48, yAxisW: 56, yTickPad: 12 });
</script>
</body>
</html>
